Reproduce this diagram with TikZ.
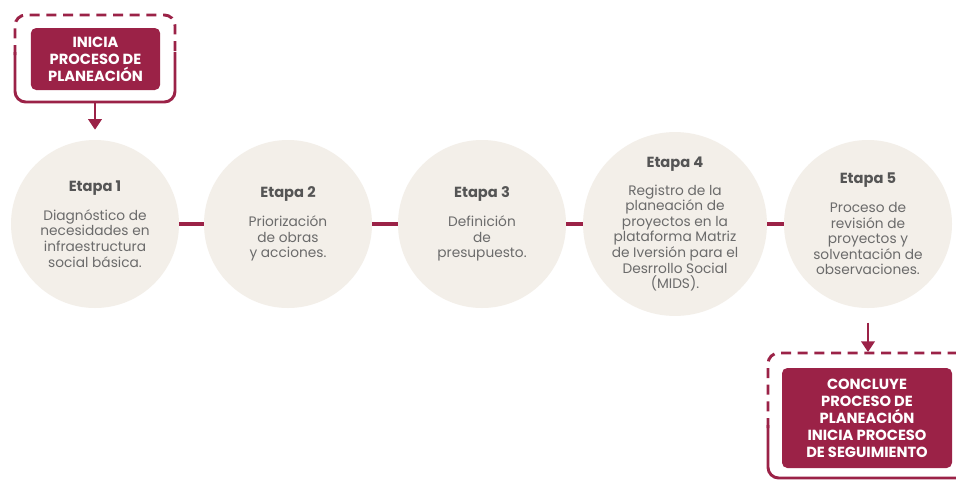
\documentclass[tikz,border=0pt]{standalone}
\usepackage{fontspec}
\setsansfont{Poppins}
\usetikzlibrary{positioning,arrows.meta}
\definecolor{guinda}{HTML}{9B2247}
\definecolor{crema}{HTML}{F3EFE9}
\definecolor{texto}{HTML}{6B6B6B}
\definecolor{titulo}{HTML}{555555}
\newcommand{\etapatit}[1]{\textcolor{titulo}{\bfseries\fontsize{11}{13}\selectfont #1}}

\begin{document}
\begin{tikzpicture}[
  x=0.75pt, y=-0.75pt,
  font=\sffamily,
  etapa/.style={circle, fill=crema, minimum size=126pt, inner sep=0pt, align=center, text=texto, font=\sffamily\fontsize{10.3}{11.7}\selectfont},
  caja/.style={rounded corners=4pt, fill=guinda, text=white, align=center, inner sep=0pt, font=\sffamily\bfseries\fontsize{11}{12.75}\selectfont},
  marco/.style={draw=guinda, line width=2.2pt, rounded corners=8pt},
  link/.style={draw=guinda, line width=3pt},
  arr/.style={-{Triangle[width=10pt,length=8pt]}, draw=guinda, fill=guinda, line width=2pt}
]
\clip (0,0) rectangle (956,483);
\fill[white] (0,0) rectangle (956,483);

% inicio
\node[caja, minimum width=97pt, minimum height=46.5pt] (inicio) at (95.5,59) {INICIA\\PROCESO DE\\PLANEACIÓN};
\draw[marco, dash pattern=on 7.5pt off 5pt] (15,55) -- (15,15) -- (175,15) -- (175,55);
\draw[marco] (15,52) -- (15,102) -- (175,102) -- (175,52);
\coordinate (inicioBase) at (95,102);

% etapas
\node[etapa] (e1) at (95,224) {\etapatit{Etapa 1}\\[10pt]Diagnóstico de\\necesidades en\\infraestructura\\social básica.};
\node[etapa] (e2) at (288,224) {\etapatit{Etapa 2}\\[10pt]Priorización\\de obras\\y acciones.};
\node[etapa] (e3) at (482,224) {\etapatit{Etapa 3}\\[10pt]Definición\\de\\presupuesto.};
\node[etapa] (e4) at (675,224) {\etapatit{Etapa 4}\\[9pt]Registro de la\\planeación de\\proyectos en la\\plataforma Matriz\\de Iversión para el\\Desrrollo Social\\(MIDS).};
\node[etapa] (e5) at (868,224) {\etapatit{Etapa 5}\\[10pt]Proceso de\\revisión de\\proyectos y\\solventación de\\observaciones.};

\draw[link] (e1) -- (e2);
\draw[link] (e2) -- (e3);
\draw[link] (e3) -- (e4);
\draw[link] (e4) -- (e5);

% fin
\node[caja, minimum width=127.5pt, minimum height=75pt] (fin) at (867,418) {CONCLUYE\\PROCESO DE\\PLANEACIÓN\\INICIA PROCESO\\DE SEGUIMIENTO};
\draw[marco, dash pattern=on 7.5pt off 5pt] (768,428) -- (768,353) -- (975,353);
\draw[marco] (768,425) -- (768,478) -- (975,478);
\coordinate (finTop) at (868,352);

\draw[arr, shorten >=7.5pt] (inicioBase) -- (e1);
\draw[arr, shorten <=11pt] (e5) -- (finTop);
\end{tikzpicture}
\end{document}
